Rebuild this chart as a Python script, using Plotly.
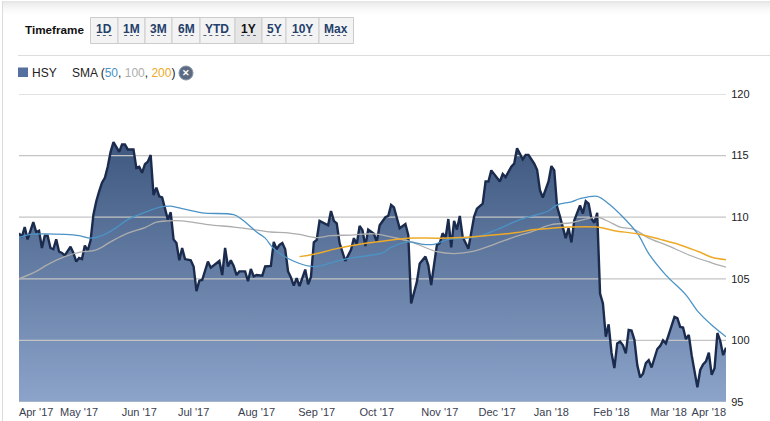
import plotly.graph_objects as go

# ---- data ----------------------------------------------------------------
close_day = [0,1,2,3,5,6,7,8,9,10,11,12,13,14,15,16,18,19,20,21,22,23,24,25,26,27,28,29,30,31,32,33,35,36,37,38,40,41,42,43,44,45,46,47,48,49,50,51,52,53,54,55,56,57,58,60,61,62,63,64,66,67,70,71,72,73,74,75,76,77,79,80,81,82,83,85,86,88,89,90,91,92,93,94,95,96,97,98,100,101,102,103,104,105,108,109,110,111,112,114,116,117,118,119,120,121,122,124,125,126,128,129,130,131,132,133,135,136,137,139,140,142,143,144,146,147,148,149,150,151,152,153,154,155,157,159,160,162,163,164,165,168,169,170,172,173,174,175,176,177,178,180,181,182,183,185,186,187,188,189,191,192,193,194,196,197,198,199,200,201,202,203,204,205,206,207,208,209,210,211,212,213,214,215,216,217,218,219,220,221,222,223,224,225,226,228,229,230,231,232,233,234,235,237,238,239,240,241,242,243,244,245,246,247]
close_value = [108.7,108.4,109.2,108.2,109.6,108.8,108.9,107.5,108.5,108.5,107.5,107.4,108.2,107.2,107.1,106.9,107.6,107.1,106.4,106.7,106.6,107.7,107.3,108.1,110.2,111.3,112.1,112.8,113.2,114.1,115.3,116.1,115.3,115.9,115.9,115.5,115.5,114.0,114.1,113.6,114.3,114.5,115.05,111.8,112.4,111.7,111.6,110.6,109.8,110.4,108.2,107.9,106.5,107.5,106.6,106.5,106.0,104.0,104.85,104.9,106.4,105.9,106.45,105.3,107.5,106.0,106.5,106.05,105.3,105.6,105.6,104.8,105.8,105.2,105.3,105.25,106.0,106.05,108.0,107.4,107.75,107.9,107.4,105.6,105.1,104.45,105.05,104.4,105.75,104.55,105.15,107.95,108.15,109.7,109.35,110.5,109.7,109.5,107.9,106.45,107.35,108.3,107.8,109.3,108.95,107.65,109.0,108.65,108.0,109.35,110.0,110.1,111.0,110.8,109.9,109.1,109.45,108.55,103.0,104.75,106.25,106.8,106.1,104.5,107.75,107.9,108.7,108.3,109.85,107.55,109.7,109.0,110.1,108.4,107.45,110.05,110.7,111.1,112.9,112.9,113.8,112.9,113.5,113.25,114.1,114.35,115.6,115.2,114.7,115.05,115.05,114.35,113.85,112.2,111.6,112.9,114.15,113.8,110.85,110.05,108.3,109.1,107.95,109.75,110.95,110.3,111.3,111.1,109.9,109.55,110.35,103.8,103.0,100.3,101.3,99.0,97.75,99.75,99.9,99.6,98.95,100.85,100.8,100.05,98.0,97.0,97.3,98.15,98.4,97.8,98.6,99.3,99.55,100.0,99.75,101.2,101.9,101.8,101.1,101.05,100.1,100.45,98.8,96.2,97.6,98.05,98.3,99.0,97.2,97.75,100.6,99.95,98.8,99.4]

sma50_day = [0,4,9,16,21,25,29,34,38,44,50,53,57,64,75,78,83,86,89,94,102,105,109,114,121,127,130,136,141,145,150,160,167,175,181,185,188,193,196,202,206,210,216,220,226,233,237,242,247]
sma50_value = [108.35,108.6,108.65,108.6,108.5,108.3,108.5,109.15,109.8,110.4,110.85,110.9,110.7,110.35,110.2,109.8,108.8,108.3,107.45,106.65,106.0,106.05,106.3,106.6,106.85,107.1,107.55,108.0,107.8,107.8,108.2,108.4,109.0,109.8,110.2,110.5,111.0,111.25,111.5,111.7,111.1,110.25,108.7,107.05,105.3,103.7,102.4,101.25,100.3]

sma100_day = [0,6,10,16,21,27,32,38,44,48,52,57,66,75,82,88,93,98,104,109,116,124,131,137,146,152,159,166,175,179,186,193,199,202,206,210,215,220,226,235,242,247]
sma100_value = [105.0,105.6,106.15,106.8,107.15,107.35,108.0,108.7,109.15,109.6,109.7,109.7,109.4,109.2,109.0,108.8,108.75,108.6,108.35,108.5,108.55,108.65,108.35,108.0,107.2,107.05,107.25,107.8,108.55,108.8,109.4,109.55,109.9,110.0,109.65,109.2,109.0,108.3,107.75,106.85,106.3,105.95]

sma200_day = [98,103,111,119,127,136,147,158,168,174,180,186,192,202,208,216,224,231,238,242,247]
sma200_value = [106.8,107.0,107.45,107.8,108.05,108.3,108.3,108.4,108.6,108.75,109.0,109.1,109.2,109.2,108.9,108.65,108.2,107.75,107.15,106.75,106.55]

month_labels = ["Apr '17","May '17","Jun '17","Jul '17","Aug '17","Sep '17","Oct '17","Nov '17","Dec '17","Jan '18","Feb '18","Mar '18","Apr '18"]
month_label_day = [6,21,42,61,83,104,125,147,167,186,207,227,241]
price_ticks = [95,100,105,110,115,120]
timeframes = ["1D","1M","3M","6M","YTD","1Y","5Y","10Y","Max"]

# ---- page geometry --------------------------------------------------------
W, H = 770, 421
L, R, T, B = 19, 726, 94, 402
px = lambda x: (x - L) / (R - L)
py = lambda y: (B - y) / (B - T)
FONT = "Liberation Sans"
BLUE, GREY, ORANGE = "#4b93c6", "#adadad", "#edaa28"
GRID = "#c4c4c4"

fig = go.Figure()

# filled area
fig.add_trace(go.Scatter(
    x=close_day, y=close_value, mode="lines", line=dict(width=0),
    fill="tozeroy",
    fillgradient=dict(type="vertical", start=95, stop=116,
                      colorscale=[[0, "#8ca4ca"], [1, "#3f587f"]]),
    hoverinfo="skip", showlegend=False))

# grid lines above the fill, under the lines
for level in price_ticks:
    fig.add_trace(go.Scatter(
        x=[0, 247], y=[level, level], mode="lines", cliponaxis=False,
        line=dict(color=GRID, width=1.2), hoverinfo="skip", showlegend=False))

fig.add_trace(go.Scatter(x=close_day, y=close_value, mode="lines", name="HSY",
                         cliponaxis=False, line=dict(color="#1b2b4d", width=2.4)))
fig.add_trace(go.Scatter(x=sma100_day, y=sma100_value, mode="lines", name="SMA 100",
                         line=dict(color=GREY, width=1.3, shape="spline")))
fig.add_trace(go.Scatter(x=sma50_day, y=sma50_value, mode="lines", name="SMA 50",
                         line=dict(color=BLUE, width=1.3, shape="spline")))
fig.add_trace(go.Scatter(x=sma200_day, y=sma200_value, mode="lines", name="SMA 200",
                         line=dict(color=ORANGE, width=1.5, shape="spline")))

shapes, notes = [], []


def rect(x0, y0, x1, y1, fill, line=None, layer="below"):
    shapes.append(dict(type="rect", xref="paper", yref="paper",
                       x0=px(x0), x1=px(x1), y0=py(y0), y1=py(y1),
                       fillcolor=fill, layer=layer,
                       line=dict(color=line or fill, width=1 if line else 0)))


def hline(x0, x1, y, color, width=1, dash="solid"):
    shapes.append(dict(type="line", xref="paper", yref="paper",
                       x0=px(x0), x1=px(x1), y0=py(y), y1=py(y),
                       line=dict(color=color, width=width, dash=dash)))


def text(x, y, s, size=12, color="#222", anchor="left", bold=False):
    notes.append(dict(xref="paper", yref="paper", x=px(x), y=py(y), text=f"<b>{s}</b>" if bold else s,
                      showarrow=False, xanchor=anchor, yanchor="middle",
                      font=dict(family=FONT, size=size, color=color), borderpad=0))


# top fade and frame
fade = ["#e6e6e6", "#e9e9e9", "#ececec", "#efefef", "#f1f1f1", "#f3f3f3", "#f5f5f5", "#f7f7f7",
        "#f8f8f8", "#fafafa", "#fbfbfb", "#fcfcfc", "#fdfdfd", "#fefefe"]
for k, c in enumerate(fade):
    rect(3, k + 1, 770, k + 2, c)
shapes.append(dict(type="line", xref="paper", yref="paper", x0=px(2.5), x1=px(2.5), y0=py(1), y1=py(421),
                   line=dict(color="#dcdcdc", width=1)))

# timeframe selector
text(24, 30, "Timeframe", 11.7, "#111", bold=True)
edges = [90.5, 118, 145, 172, 200, 235, 262, 286, 319, 353.5]
for k, lab in enumerate(timeframes):
    active = lab == "1Y"
    rect(edges[k], 17.5, edges[k + 1], 43.5, "#e6e6e6" if active else "#f3f3f3", "#cccccc")
    mid = (edges[k] + edges[k + 1]) / 2
    text(mid, 29.5, lab, 12, "#111" if active else "#24406b", anchor="center", bold=True)
    half = 3.7 * len(lab) + (3 if lab == "YTD" else 0)
    hline(mid - half, mid + half, 35.5, "#555f78", 1, "dot")
hline(18, 770, 55.5, "#dddddd")

# legend row
rect(18, 67.5, 28, 77, "#55709f")
text(31, 72.5, "HSY", 12, "#222")
text(71, 73, f"SMA (<span style='color:{BLUE}'>50</span>, <span style='color:{GREY}'>100</span>, "
             f"<span style='color:{ORANGE}'>200</span>)", 12, "#222")
shapes.append(dict(type="circle", xref="paper", yref="paper", x0=px(179), x1=px(193), y0=py(66), y1=py(80),
                   fillcolor="#5b6b82", line=dict(color="#8794a6", width=1)))
text(186, 72.5, "✕", 9, "#ffffff", anchor="center", bold=True)

fig.update_layout(
    width=W, height=H,
    margin=dict(l=L, r=W - R, t=T, b=H - B, pad=0, autoexpand=False),
    paper_bgcolor="white", plot_bgcolor="white",
    showlegend=False, hovermode=False,
    font=dict(family=FONT, size=12, color="#333"),
    shapes=shapes, annotations=notes,
    xaxis=dict(range=[0, 247], automargin=False, showgrid=False, zeroline=False, showline=False,
               tickmode="array", tickvals=month_label_day, ticktext=month_labels,
               tickangle=0, ticks="outside", ticklen=0, tickfont=dict(size=11, color="#3a4050")),
    yaxis=dict(range=[95, 120], automargin=False, side="right", showgrid=False, zeroline=False, showline=False,
               tickmode="array", tickvals=price_ticks, ticks="outside", ticklen=2,
               tickcolor="rgba(0,0,0,0)", tickfont=dict(size=11, color="#222")),
)
fig.write_html("out.html", config={"displayModeBar": False},
               post_script="document.body.style.margin='0';document.documentElement.style.overflow='hidden';")
